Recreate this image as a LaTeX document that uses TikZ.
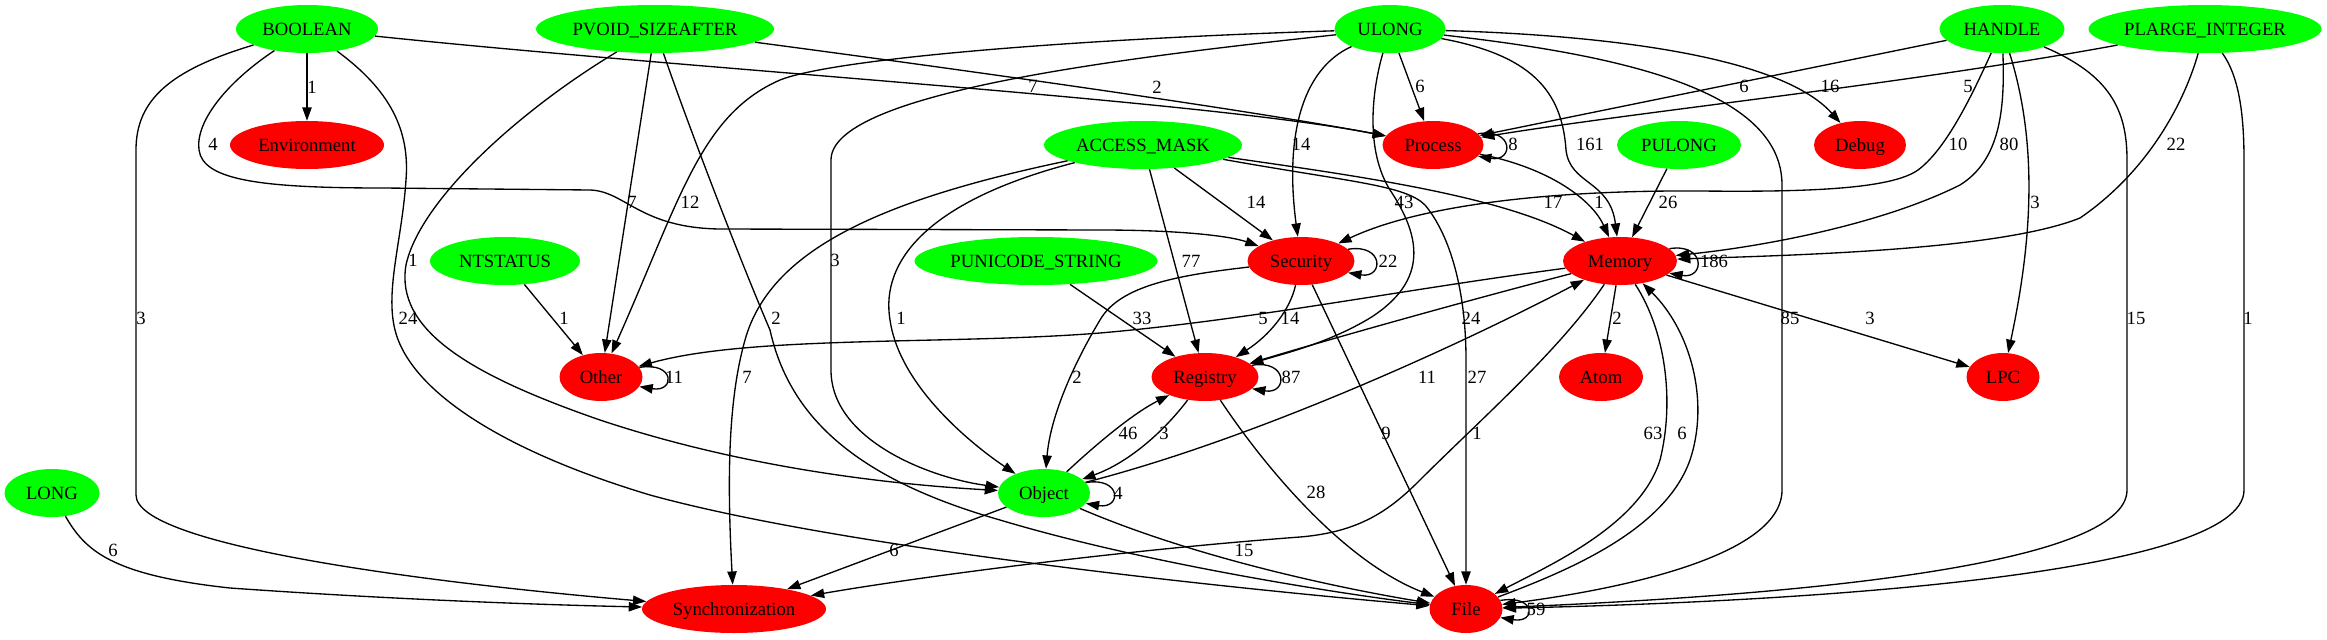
\documentclass[tikz,border=0pt]{standalone}
\usepackage{fontspec}
\setmainfont{Liberation Serif}
\usetikzlibrary{shapes.geometric,arrows.meta}
\definecolor{vgreen}{RGB}{0,255,0}
\definecolor{vred}{RGB}{255,0,0}
\newcommand\nodetxt[1]{\makebox[0pt][c]{#1}}
\begin{document}
\begin{tikzpicture}[x=0.75pt,y=-0.75pt,
 base/.style={ellipse, draw=none, inner sep=0pt, minimum height=36pt, text height=9.5pt, text depth=0pt, font=\fontsize{14}{16}\selectfont},
 gn/.style={base, fill=vgreen},
 rn/.style={base, fill=vred},
 wd/.style={minimum width=#1*0.75pt},
 ed/.style={draw=black, line width=1pt, -{Triangle[length=10pt,width=7pt]}},
 lb/.style={font=\fontsize{14}{16}\selectfont, inner sep=0pt}]
\useasboundingbox (0,0) rectangle (2327,639);
% nodes
\node[gn,wd=142] (B) at (307,29) {\nodetxt{BOOLEAN}};
\node[gn,wd=238] (PV) at (655,29) {\nodetxt{PVOID\_SIZEAFTER}};
\node[gn,wd=111] (UL) at (1390,29) {\nodetxt{ULONG}};
\node[gn,wd=125] (HA) at (2002,29) {\nodetxt{HANDLE}};
\node[gn,wd=233] (PL) at (2205,29) {\nodetxt{PLARGE\_INTEGER}};
\node[rn,wd=154] (EN) at (307,145) {\nodetxt{Environment}};
\node[gn,wd=198] (AM) at (1143,145) {\nodetxt{ACCESS\_MASK}};
\node[rn,wd=101] (PR) at (1433,145) {\nodetxt{Process}};
\node[gn,wd=124] (PU) at (1679,145) {\nodetxt{PULONG}};
\node[rn,wd=92] (DE) at (1860,145) {\nodetxt{Debug}};
\node[gn,wd=150] (NT) at (505,261) {\nodetxt{NTSTATUS}};
\node[gn,wd=243] (PS) at (1036,261) {\nodetxt{PUNICODE\_STRING}};
\node[rn,wd=107] (SE) at (1301,261) {\nodetxt{Security}};
\node[rn,wd=114] (ME) at (1620,261) {\nodetxt{Memory}};
\node[rn,wd=83] (OT) at (601,377) {\nodetxt{Other}};
\node[rn,wd=107] (RE) at (1205,377) {\nodetxt{Registry}};
\node[rn,wd=84] (AT) at (1601,377) {\nodetxt{Atom}};
\node[rn,wd=73] (LP) at (2003,377) {\nodetxt{LPC}};
\node[gn,wd=95] (LO) at (52,493) {\nodetxt{LONG}};
\node[gn,wd=92] (OB) at (1044,493) {\nodetxt{Object}};
\node[rn,wd=184] (SY) at (734,609) {\nodetxt{Synchronization}};
\node[rn,wd=73] (FI) at (1466,609) {\nodetxt{File}};
% BOOLEAN
\draw[ed] (B) -- (EN);
\draw[ed] (B) .. controls (700,70) and (1200,100) .. (PR);
\draw[ed] (B) .. controls (230,80) and (195,120) .. (199,150) .. controls (203,180) and (260,188) .. (383,188) -- (590,190) .. controls (625,191) and (640,228) .. (720,229) -- (1100,230) .. controls (1180,230) and (1230,236) .. (SE);
\draw[ed] (B) .. controls (170,70) and (136,100) .. (136,150) -- (136,495) .. controls (136,545) and (420,582) .. (SY);
\draw[ed] (B) .. controls (390,90) and (410,130) .. (406,180) .. controls (402,240) and (385,290) .. (395,330) .. controls (410,390) and (500,450) .. (650,495) .. controls (850,550) and (1250,590) .. (FI);
% LONG
\draw[ed] (LO) .. controls (85,550) and (110,575) .. (230,588) .. controls (400,600) and (550,605) .. (SY);
% PVOID_SIZEAFTER
\draw[ed] (PV) .. controls (950,68) and (1250,110) .. (PR);
\draw[ed] (PV) .. controls (520,110) and (420,200) .. (406,265) .. controls (395,330) and (470,375) .. (600,420) .. controls (750,470) and (900,485) .. (OB);
\draw[ed] (PV) -- (OT);
\draw[ed] (PV) .. controls (690,130) and (740,260) .. (770,330) .. controls (790,420) and (860,480) .. (1000,520) .. controls (1150,565) and (1350,595) .. (FI);
% NTSTATUS, PUNICODE_STRING, PULONG
\draw[ed] (NT) -- (OT);
\draw[ed] (PS) -- (RE);
\draw[ed] (PU) -- (ME);
% ULONG
\draw[ed] (UL) .. controls (1050,40) and (830,60) .. (780,80) .. controls (700,115) and (680,200) .. (OT);
\draw[ed] (UL) .. controls (1100,60) and (831,95) .. (831,160) -- (831,370) .. controls (831,440) and (930,478) .. (OB);
\draw[ed] (UL) -- (PR);
\draw[ed] (UL) .. controls (1300,70) and (1285,140) .. (SE);
\draw[ed] (UL) .. controls (1372,90) and (1365,150) .. (1390,190) .. controls (1420,235) and (1430,280) .. (1370,318) .. controls (1330,342) and (1290,352) .. (RE);
\draw[ed] (UL) .. controls (1530,55) and (1562,90) .. (1566,150) .. controls (1570,185) and (1610,180) .. (ME);
\draw[ed] (UL) .. controls (1600,35) and (1780,55) .. (DE);
\draw[ed] (UL) .. controls (1620,55) and (1782,90) .. (1782,185) -- (1782,490) .. controls (1782,560) and (1600,592) .. (FI);
% ACCESS_MASK
\draw[ed] (AM) .. controls (880,200) and (770,250) .. (745,340) .. controls (728,400) and (727,480) .. (SY);
\draw[ed] (AM) .. controls (930,200) and (880,260) .. (890,320) .. controls (900,390) and (980,450) .. (OB);
\draw[ed] (AM) -- (RE);
\draw[ed] (AM) -- (SE);
\draw[ed] (AM) .. controls (1350,175) and (1500,195) .. (ME);
\draw[ed] (AM) .. controls (1350,182) and (1405,185) .. (1425,205) .. controls (1450,235) and (1466,290) .. (1466,360) -- (FI);
% HANDLE
\draw[ed] (HA) -- (PR);
\draw[ed] (HA) .. controls (1970,100) and (1945,150) .. (1918,170) .. controls (1890,190) and (1800,192) .. (1700,191) .. controls (1550,190) and (1420,205) .. (SE);
\draw[ed] (HA) .. controls (2005,110) and (2000,160) .. (1960,185) .. controls (1880,225) and (1760,247) .. (ME);
\draw[ed] (HA) .. controls (2040,150) and (2030,250) .. (LP);
\draw[ed] (HA) .. controls (2110,75) and (2127,110) .. (2127,160) -- (2127,490) .. controls (2127,565) and (1800,595) .. (FI);
% PLARGE_INTEGER
\draw[ed] (PL) .. controls (1900,85) and (1650,110) .. (PR);
\draw[ed] (PL) .. controls (2185,100) and (2150,170) .. (2080,218) .. controls (2000,250) and (1800,255) .. (ME);
\draw[ed] (PL) .. controls (2238,75) and (2244,110) .. (2244,160) -- (2244,490) .. controls (2244,575) and (1800,602) .. (FI);
% Process
\draw[ed] (PR) .. controls (1550,168) and (1592,200) .. (ME);
% Security
\draw[ed] (SE) .. controls (1180,275) and (1120,285) .. (1100,320) .. controls (1070,370) and (1050,420) .. (OB);
\draw[ed] (SE) .. controls (1290,310) and (1270,335) .. (RE);
\draw[ed] (SE) -- (FI);
% Memory
\draw[ed] (ME) .. controls (1400,290) and (1250,320) .. (1100,333) .. controls (950,345) and (750,335) .. (OT);
\draw[ed] (ME) .. controls (1450,305) and (1310,345) .. (RE);
\draw[ed] (ME) -- (AT);
\draw[ed] (ME) -- (LP);
\draw[ed] (ME) .. controls (1665,330) and (1675,400) .. (1660,460) .. controls (1640,525) and (1550,565) .. (FI);
\draw[ed] (ME) .. controls (1560,350) and (1480,420) .. (1420,480) .. controls (1390,510) and (1360,532) .. (1300,537) .. controls (1100,552) and (900,580) .. (SY);
% File
\draw[ed] (FI) .. controls (1570,570) and (1665,530) .. (1690,460) .. controls (1710,400) and (1690,330) .. (ME);
% Object
\draw[ed] (OB) .. controls (1090,450) and (1130,415) .. (RE);
\draw[ed] (OB) .. controls (1250,440) and (1450,350) .. (ME);
\draw[ed] (OB) -- (SY);
\draw[ed] (OB) .. controls (1200,560) and (1350,590) .. (FI);
% Registry
\draw[ed] (RE) .. controls (1165,430) and (1130,462) .. (OB);
\draw[ed] (RE) .. controls (1260,460) and (1340,560) .. (FI);
% self loops
\draw[ed] (PR.14) .. controls +(36,-6) and +(36,6) .. (PR.-14);
\draw[ed] (SE.14) .. controls +(36,-6) and +(36,6) .. (SE.-14);
\draw[ed] (ME.14) .. controls +(36,-6) and +(36,6) .. (ME.-14);
\draw[ed] (OT.14) .. controls +(36,-6) and +(36,6) .. (OT.-14);
\draw[ed] (RE.14) .. controls +(36,-6) and +(36,6) .. (RE.-14);
\draw[ed] (OB.14) .. controls +(36,-6) and +(36,6) .. (OB.-14);
\draw[ed] (FI.14) .. controls +(36,-6) and +(36,6) .. (FI.-14);
% labels
\node[lb] (l1) at (312,87) {1};
\node[lb] (l2) at (213,144) {4};
\node[lb] (l3) at (141,318) {3};
\node[lb] (l4) at (408,318) {24};
\node[lb] (l5) at (413,260) {1};
\node[lb] (l6) at (564,318) {1};
\node[lb] (l7) at (113,550) {6};
\node[lb] (l8) at (1033,86) {7};
\node[lb] (l9) at (632,202) {7};
\node[lb] (l10) at (690,202) {12};
\node[lb] (l11) at (835,260) {3};
\node[lb] (l12) at (776,318) {2};
\node[lb] (l13) at (901,318) {1};
\node[lb] (l14) at (747,377) {7};
\node[lb] (l15) at (1142,318) {33};
\node[lb] (l16) at (1077,377) {2};
\node[lb] (l17) at (1128,433) {46};
\node[lb] (l18) at (1164,433) {3};
\node[lb] (l19) at (1118,493) {4};
\node[lb] (l20) at (894,550) {6};
\node[lb] (l21) at (1244,550) {15};
\node[lb] (l22) at (674,377) {11};
\node[lb] (l23) at (1157,87) {2};
\node[lb] (l24) at (1420,86) {6};
\node[lb] (l25) at (1301,144) {14};
\node[lb] (l26) at (1256,202) {14};
\node[lb] (l27) at (1191,261) {77};
\node[lb] (l28) at (1404,202) {43};
\node[lb] (l29) at (1553,202) {17};
\node[lb] (l30) at (1599,202) {1};
\node[lb] (l31) at (1668,202) {26};
\node[lb] (l32) at (1590,144) {161};
\node[lb] (l33) at (1513,144) {8};
\node[lb] (l34) at (1388,261) {22};
\node[lb] (l35) at (1714,261) {186};
\node[lb] (l36) at (1263,318) {5};
\node[lb] (l37) at (1290,318) {14};
\node[lb] (l38) at (1471,318) {24};
\node[lb] (l39) at (1617,318) {2};
\node[lb] (l40) at (1291,377) {87};
\node[lb] (l41) at (1427,377) {11};
\node[lb] (l42) at (1477,377) {27};
\node[lb] (l43) at (1386,433) {9};
\node[lb] (l44) at (1477,433) {1};
\node[lb] (l45) at (1653,433) {63};
\node[lb] (l46) at (1682,433) {6};
\node[lb] (l47) at (1316,492) {28};
\node[lb] (l48) at (1536,609) {59};
\node[lb] (l49) at (1830,86) {16};
\node[lb] (l50) at (1744,86) {6};
\node[lb] (l51) at (1968,86) {5};
\node[lb] (l52) at (1958,144) {10};
\node[lb] (l53) at (2009,144) {80};
\node[lb] (l54) at (2035,202) {3};
\node[lb] (l55) at (2176,144) {22};
\node[lb] (l56) at (1790,318) {85};
\node[lb] (l57) at (1870,318) {3};
\node[lb] (l58) at (2136,318) {15};
\node[lb] (l59) at (2248,318) {1};
\end{tikzpicture}
\end{document}
